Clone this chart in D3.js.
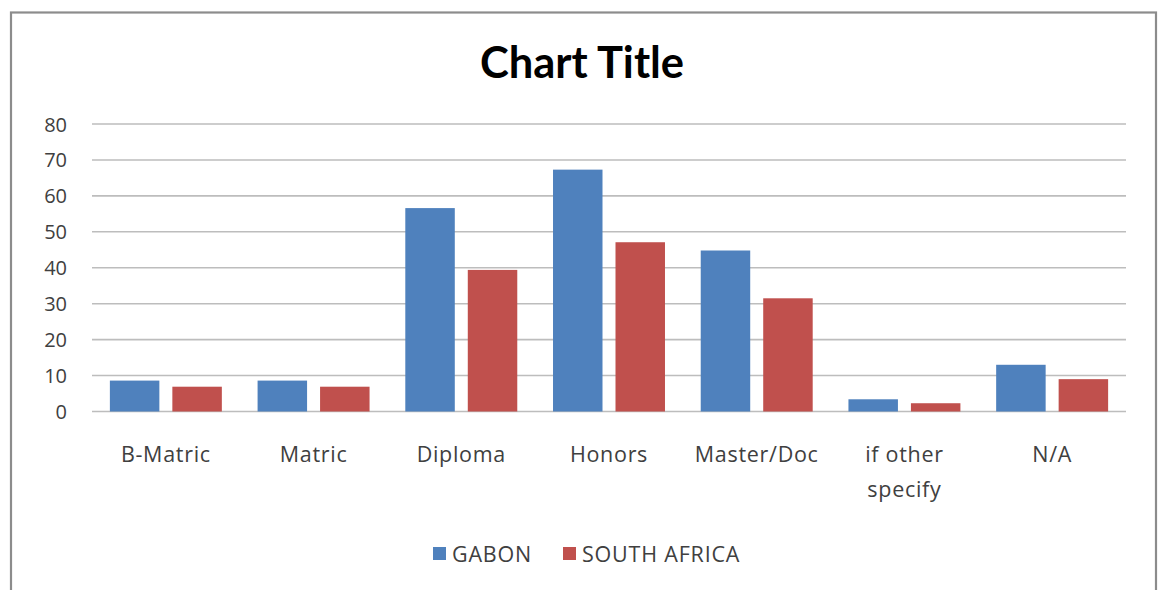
<!DOCTYPE html>
<html>
<head>
<meta charset="utf-8">
<script src="https://cdn.jsdelivr.net/npm/d3@7"></script>
<style>
  html, body { margin: 0; padding: 0; background: #fff; }
  svg { display: block; font-family: "Open Sans", Lato, sans-serif; }
</style>
</head>
<body>
<svg id="chart" width="1160" height="590"></svg>
<script>
// Education level counts by country
const categories = ["B-Matric", "Matric", "Diploma", "Honors", "Master/Doc", "if other specify", "N/A"];
const seriesNames = ["GABON", "SOUTH AFRICA"];
const gabon = [8.6, 8.6, 56.6, 67.3, 44.8, 3.4, 13.0];
const southAfrica = [6.9, 6.9, 39.4, 47.1, 31.5, 2.3, 9.0];
const yTicks = [0, 10, 20, 30, 40, 50, 60, 70, 80];
const colors = ["#4f81bd", "#c0504d"];

const series = [gabon, southAfrica];
const rows = categories.map((c, i) => ({ cat: c, vals: series.map(s => s[i]) }));

const labelFont = "'Open Sans', Lato, sans-serif";
const labelColor = "#404040";

const svg = d3.select("#chart");

// outer frame
svg.append("rect")
  .attr("x", 11).attr("y", 12.5)
  .attr("width", 1145).attr("height", 600)
  .attr("fill", "#fff")
  .attr("stroke", "#8c8c8c")
  .attr("stroke-width", 2.2);

const plot = { left: 92, right: 1126, top: 124, bottom: 411.5 };

const x0 = d3.scaleBand()
  .domain(categories)
  .range([plot.left, plot.right])
  .paddingInner(0.242)
  .paddingOuter(0.121);

const x1 = d3.scaleBand()
  .domain(d3.range(series.length))
  .range([0, x0.bandwidth()])
  .paddingInner(0.208);

const y = d3.scaleLinear().domain([0, 80]).range([plot.bottom, plot.top]);

// gridlines
svg.append("g")
  .selectAll("line")
  .data(yTicks)
  .join("line")
  .attr("x1", plot.left).attr("x2", plot.right)
  .attr("y1", d => y(d)).attr("y2", d => y(d))
  .attr("stroke", "#bdbdbd")
  .attr("stroke-width", 1.6);

// y-axis labels
const yAxis = d3.axisLeft(y).tickValues(yTicks).tickSize(0).tickPadding(0);
const yg = svg.append("g")
  .attr("transform", `translate(${67},0)`)
  .call(yAxis);
yg.select(".domain").remove();
yg.selectAll("text")
  .attr("font-family", labelFont)
  .attr("font-size", 20)
  .attr("fill", labelColor)
  .attr("dy", "0.35em");

// bars
const groups = svg.append("g")
  .selectAll("g")
  .data(rows)
  .join("g")
  .attr("transform", d => `translate(${x0(d.cat)},0)`);

groups.selectAll("rect")
  .data(d => d.vals.map((v, k) => ({ v, k })))
  .join("rect")
  .attr("x", d => x1(d.k))
  .attr("width", x1.bandwidth())
  .attr("y", d => y(d.v))
  .attr("height", d => y(0) - y(d.v))
  .attr("fill", d => colors[d.k]);

// category labels (wrapped where needed)
const xLabels = svg.append("g")
  .selectAll("text")
  .data(categories)
  .join("text")
  .attr("x", d => x0(d) + x0.bandwidth() / 2)
  .attr("y", 462)
  .attr("text-anchor", "middle")
  .attr("font-family", labelFont)
  .attr("font-size", 21.5)
  .attr("letter-spacing", 0.7)
  .attr("fill", labelColor);

xLabels.each(function(d) {
  const t = d3.select(this);
  const words = d === "if other specify" ? ["if other", "specify"] : [d];
  words.forEach((w, i) => {
    t.append("tspan")
      .attr("x", x0(d) + x0.bandwidth() / 2)
      .attr("dy", i === 0 ? 0 : 35)
      .text(w);
  });
});

// title
svg.append("text")
  .attr("x", 582)
  .attr("y", 78)
  .attr("text-anchor", "middle")
  .attr("font-family", "Lato, 'Open Sans', sans-serif")
  .attr("font-size", 43.5)
  .attr("font-weight", "bold")
  .attr("fill", "#000")
  .text("Chart Title");

// legend
const legend = svg.append("g");
const legendItems = [
  { name: seriesNames[0], color: colors[0], x: 433 },
  { name: seriesNames[1], color: colors[1], x: 563 }
];
legendItems.forEach(it => {
  legend.append("rect")
    .attr("x", it.x).attr("y", 547)
    .attr("width", 13).attr("height", 13)
    .attr("fill", it.color);
  legend.append("text")
    .attr("x", it.x + 19).attr("y", 562)
    .attr("font-family", labelFont)
    .attr("font-size", 21.5)
    .attr("letter-spacing", 0.8)
    .attr("fill", labelColor)
    .text(it.name);
});
</script>
</body>
</html>
